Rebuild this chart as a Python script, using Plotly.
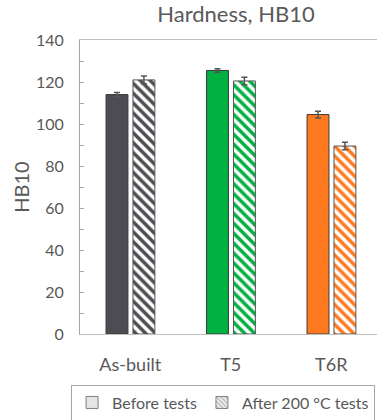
import plotly.graph_objects as go

# Brinell hardness per heat-treatment condition
categories = ["As-built", "T5", "T6R"]
before_tests = [114, 125.5, 104.5]
before_err = [1.0, 0.8, 1.6]
after_tests = [121, 120.5, 89.5]
after_err = [1.8, 1.8, 1.8]
bar_colors = ["#4c4c52", "#00b040", "#ff7a1f"]

font_family = "Lato, 'Open Sans', sans-serif"
text_color = "#595959"

fig = go.Figure()

fig.add_trace(go.Bar(
    x=categories, y=before_tests,
    width=0.218, offset=-0.241,
    marker=dict(color=bar_colors, line=dict(color="#3a3a3a", width=1)),
    error_y=dict(type="data", array=before_err, color="#555555", thickness=1.5, width=3),
    showlegend=False,
))

fig.add_trace(go.Bar(
    x=categories, y=after_tests,
    width=0.218, offset=0.027,
    marker=dict(
        color="white",
        line=dict(color="#555555", width=1),
        pattern=dict(shape="\\", fgcolor=bar_colors, bgcolor="white",
                     size=7, solidity=0.5, fillmode="replace", fgopacity=1),
    ),
    error_y=dict(type="data", array=after_err, color="#555555", thickness=1.5, width=3),
    showlegend=False,
))

# Legend-only entries
fig.add_trace(go.Bar(
    x=[None], y=[None], name="Before tests",
    marker=dict(color="#e6e6e6", line=dict(color="#7f7f7f", width=1)),
))
fig.add_trace(go.Bar(
    x=[None], y=[None], name="After 200 °C tests",
    marker=dict(color="white", line=dict(color="#7f7f7f", width=1),
                pattern=dict(shape="\\", fgcolor="#b0b0b0", bgcolor="#f2f2f2",
                             size=4, solidity=0.4, fillmode="replace", fgopacity=1)),
))

fig.update_layout(
    width=377, height=420,
    margin=dict(l=80, r=0, t=40, b=86, autoexpand=False),
    paper_bgcolor="white", plot_bgcolor="white",
    barmode="overlay",
    font=dict(family=font_family, color=text_color),
    title=dict(text="Hardness, HB10", x=236 / 377, xanchor="center",
               xref="container", yref="container", y=1 - 14 / 420, yanchor="middle",
               font=dict(size=22, color=text_color)),
    legend=dict(orientation="h", x=-0.03, y=-0.172, xanchor="left", yanchor="top",
                bordercolor="#a6a6a6", borderwidth=1, bgcolor="white",
                font=dict(size=16, color=text_color), itemwidth=30),
    xaxis=dict(
        range=[-0.5, 2.455], showline=True, linecolor="#bfbfbf", linewidth=1,
        mirror=True, showgrid=False, ticks="", tickfont=dict(size=18, color=text_color),
        ticklabelstandoff=14,
    ),
    yaxis=dict(
        range=[0, 140], dtick=20, showgrid=False, zeroline=False,
        showline=True, linecolor="#a6a6a6", linewidth=1,
        ticks="inside", ticklen=4, tickcolor="#a6a6a6",
        minor=dict(dtick=10, ticks="inside", ticklen=4, tickcolor="#a6a6a6"),
        tickfont=dict(size=16, color=text_color), ticklabelstandoff=12,
        title=dict(text="HB10", font=dict(size=20, color=text_color), standoff=0),
    ),
)

fig.write_html("out.html")
